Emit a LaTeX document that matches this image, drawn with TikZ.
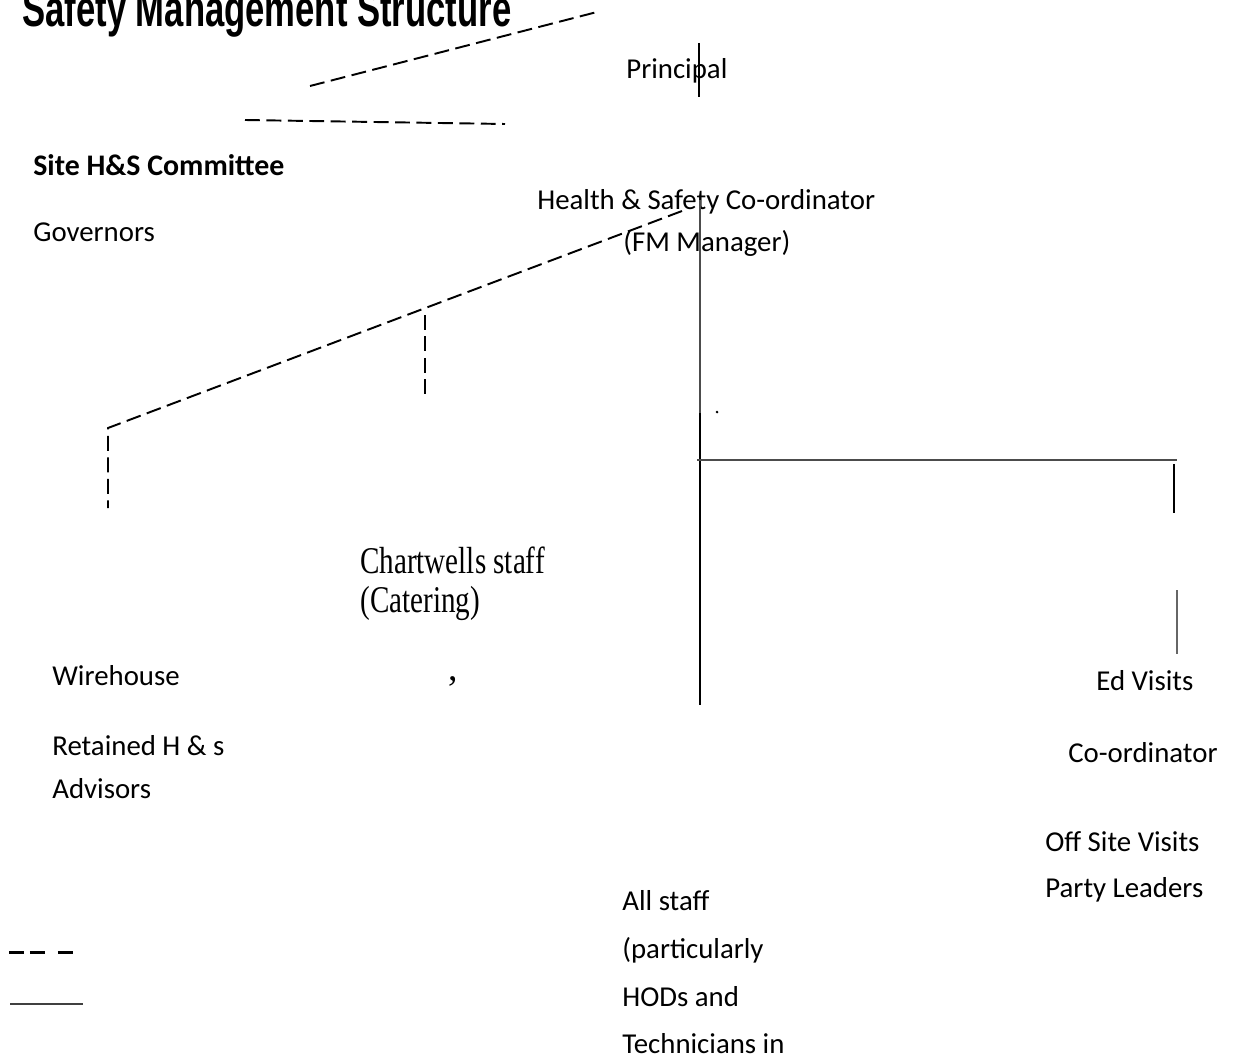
\documentclass[tikz,border=0pt]{standalone}
\usepackage{fontspec}
\setmainfont{Carlito}
\newfontfamily\arialfont{Liberation Sans}
\newfontfamily\timesfont{Liberation Serif}

\begin{document}
\begin{tikzpicture}[x=0.02cm,y=-0.02cm,
  txt/.style={anchor=base west,inner sep=0pt,font=\fontsize{16.4}{20}\selectfont},
  serif/.style={anchor=base west,inner sep=0pt,font=\timesfont\fontsize{21.5}{24}\selectfont},
  dashline/.style={line width=1.1pt,dash pattern=on 8.5pt off 3.7pt},
  rule/.style={line width=0.8pt}]
\useasboundingbox (0,0) rectangle (1234,1064);
\clip (0,0) rectangle (1234,1064);
\node (title) [anchor=base west,inner sep=0pt,font=\arialfont\bfseries\fontsize{29}{32}\selectfont] at (22,27) {\scalebox{0.68}[1]{Safety Management Structure}};
\node (principal) [txt] at (626,79) {Principal};
\node (committee) [txt,font=\bfseries\fontsize{17}{20}\selectfont] at (33,176) {Site H\&S Committee};
\node (governors) [txt] at (33,242) {Governors};
\node (hsc) [txt] at (537,210) {Health \& Safety Co-ordinator};
\node (fm) [txt] at (623,252) {(FM Manager)};
\node (chartwells) [serif] at (360,573) {\scalebox{0.77}[1]{Chartwells staff}};
\node (catering) [serif] at (360,612) {\scalebox{0.77}[1]{(Catering)}};
\node (comma) [serif] at (448,680) {,};
\node (wirehouse) [txt] at (52,685) {Wirehouse};
\node (retained) [txt] at (52,755) {Retained H \& s};
\node (advisors) [txt] at (52,798) {Advisors};
\node (edvisits) [txt] at (1096,690) {Ed Visits};
\node (edcoord) [txt] at (1068,762) {Co-ordinator};
\node (offsite) [txt] at (1045,851) {Off Site Visits};
\node (leaders) [txt] at (1045,897) {Party Leaders};
\node (allstaff) [txt] at (622,910) {All staff};
\node (partic) [txt] at (622,958) {(particularly};
\node (hods) [txt] at (622,1006) {HODs and};
\node (techs) [txt] at (622,1053) {Technicians in};
\coordinate (g1) at (310,86);
\coordinate (g2) at (597,12);
\coordinate (c1) at (245,120);
\coordinate (c2) at (505,124);
\coordinate (ptop) at (699,43);
\coordinate (pbot) at (699,97);
\coordinate (stem) at (700,200);
\coordinate (knee) at (700,413);
\coordinate (foot) at (700,705);
\coordinate (hl) at (697,460);
\coordinate (hr) at (1177,460);
\coordinate (r1) at (1174,464);
\coordinate (r2) at (1174,513);
\coordinate (r3) at (1177,590);
\coordinate (r4) at (1177,654);
\coordinate (dtop) at (682,211);
\coordinate (dcorner) at (108,428);
\coordinate (dfoot) at (108,508);
\coordinate (ctop) at (425,315);
\coordinate (cbot) at (425,396);
\coordinate (keyd1) at (9,952);
\coordinate (keyd2) at (73,952);
\coordinate (keys1) at (10,1004);
\coordinate (keys2) at (83,1004);
\draw [dashline] (g1) -- (g2);
\draw [dashline] (c1) -- (c2);
\draw [dashline] (dtop) -- (dcorner) -- (dfoot);
\draw [dashline] (ctop) -- (cbot);
\draw [rule] (ptop) -- (pbot);
\draw [line width=0.6pt,black!70] (stem) -- (knee);
\draw [line width=1.6pt] (knee) -- (foot);
\draw [line width=0.7pt,black!70] (hl) -- (hr);
\draw [line width=0.7pt] (r1) -- (r2);
\draw [line width=0.6pt,black!60] (r3) -- (r4);
\node (dot) at (717,412) [circle,fill,inner sep=0.6pt]{};
\draw [line width=1.7pt,dash pattern=on 8.5pt off 3.4pt on 8.5pt off 7.4pt] (keyd1) -- (keyd2);
\draw [line width=0.9pt,black!75] (keys1) -- (keys2);
\end{tikzpicture}
\end{document}
